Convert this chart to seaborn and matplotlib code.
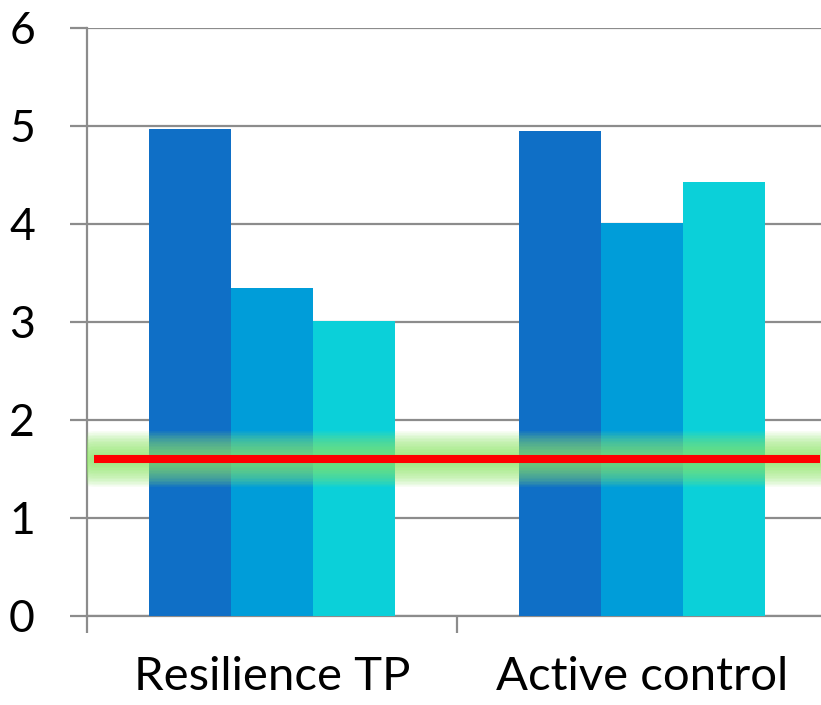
import matplotlib
matplotlib.use("Agg")
import matplotlib.pyplot as plt
import seaborn as sns
import pandas as pd
import numpy as np

# Chart data
categories = ["Resilience TP", "Active control"]
series = ["Series 1", "Series 2", "Series 3"]
series1 = [4.97, 4.95]
series2 = [3.35, 4.01]
series3 = [3.01, 4.43]
threshold = 1.6
y_ticks = [0, 1, 2, 3, 4, 5, 6]

palette = ["#0F6FC6", "#009DD9", "#0BD0D9"]

rows = []
for name, vals in zip(series, [series1, series2, series3]):
    for cat, v in zip(categories, vals):
        rows.append({"category": cat, "series": name, "value": v})
df = pd.DataFrame(rows)

sns.set_theme(style="white")
plt.rcParams["font.family"] = ["Lato", "DejaVu Sans"]

fig = plt.figure(figsize=(8.21, 7.05), dpi=100)
ax = fig.add_axes([87 / 821, 1 - 616 / 705, 740 / 821, 588 / 705])

sns.barplot(data=df, x="category", y="value", hue="series", order=categories,
            hue_order=series, palette=palette, width=0.667, gap=0,
            saturation=1, legend=False, ax=ax, zorder=3, linewidth=0)

ax.set_xlim(-0.5, 1.5)
ax.set_ylim(0, 6)
ax.set_yticks(y_ticks)
ax.set_yticklabels([str(t) for t in y_ticks])

grid_c = "#8c8c8c"
ax.yaxis.grid(True, color=grid_c, linewidth=1.6, zorder=0)
ax.set_axisbelow(True)

for side in ["top", "right"]:
    ax.spines[side].set_visible(False)
for side in ["left", "bottom"]:
    ax.spines[side].set_color(grid_c)
    ax.spines[side].set_linewidth(1.6)

# y ticks extend left of the axis
ax.tick_params(axis="y", which="major", left=True, length=12.5, width=1.6,
               color=grid_c, pad=25, labelsize=32, labelcolor="black")

# x: labels at category centres, ticks at category boundaries
ax.set_xticks([0, 1])
ax.set_xticklabels(categories)
ax.tick_params(axis="x", which="major", bottom=False, length=0, pad=29,
               labelsize=34, labelcolor="black")
ax.set_xticks([-0.5, 0.5, 1.5], minor=True)
ax.tick_params(axis="x", which="minor", bottom=True, length=12.5, width=1.6,
               color=grid_c)
ax.set_xlabel("")
ax.set_ylabel("")

# soft green glow behind the threshold line
x0, x1 = -0.482, 1.48
n_layers = 16
for i in range(n_layers):
    lw = 6 + (40 - 6) * i / (n_layers - 1)
    ax.plot([x0, x1], [threshold, threshold], color="#8fe868", alpha=0.085,
            linewidth=lw, solid_capstyle="round", zorder=4)

ax.plot([x0, x1], [threshold, threshold], color="#FF0000", linewidth=5.8,
        solid_capstyle="butt", zorder=5)

fig.savefig("out.png", dpi=100)
